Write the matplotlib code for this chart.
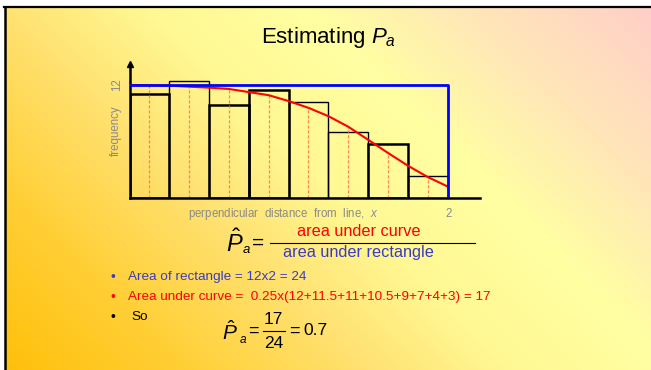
import numpy as np
import matplotlib.pyplot as plt
from matplotlib.colors import to_rgb

plt.rcParams['font.family'] = ['Liberation Sans', 'DejaVu Sans']
plt.rcParams['mathtext.fontset'] = 'custom'
plt.rcParams['mathtext.rm'] = 'Liberation Sans'
plt.rcParams['mathtext.it'] = 'Liberation Sans:italic'

# histogram of perpendicular distances (bins of width 0.25)
bin_starts = [0.0, 0.25, 0.5, 0.75, 1.0, 1.25, 1.5, 1.75]
bar_heights = [11.0, 12.4, 9.9, 11.5, 10.2, 7.0, 5.8, 2.4]
thick_bar = [True, False, True, True, False, False, True, False]

# fitted detection curve, sampled every 0.125
curve_x = [0.0, 0.125, 0.25, 0.375, 0.5, 0.625, 0.75, 0.875, 1.0,
           1.125, 1.25, 1.375, 1.5, 1.625, 1.75, 1.875, 2.0]
curve_y = [12.0, 11.98, 11.93, 11.82, 11.72, 11.58, 11.25, 10.92, 10.3,
           9.58, 8.7, 7.58, 6.2, 4.8, 3.45, 2.25, 1.25]

rect_height = 12
rect_width = 2

bullet_lines = [
    ('Area of rectangle = 12x2 = 24', '#3b3bc4'),
    ('Area under curve =  0.25x(12+11.5+11+10.5+9+7+4+3) = 17', '#ff0000'),
    ('So', 'black'),
]

W, H = 651, 370
fig = plt.figure(figsize=(W / 100, H / 100), dpi=100)
fig.patch.set_facecolor('white')

# slide background: diagonal gradient, orange -> yellow -> pink
bg = fig.add_axes([0, 0, 1, 1])
bg.set_xlim(0, W)
bg.set_ylim(H, 0)
bg.axis('off')

stops = [(0.0, '#ffc00a'), (0.18, '#ffcf36'), (0.36, '#ffe272'),
         (0.5, '#fff893'), (0.66, '#ffffa2'), (0.82, '#ffe6b8'), (1.0, '#ffcfc8')]
px, py = np.meshgrid(np.arange(W), np.arange(H))
t = (px * 0.707 - py * 0.707 + 261) / 721.0
t = np.clip(t, 0, 1)
grad = np.zeros((H, W, 3))
pos = [s[0] for s in stops]
for c in range(3):
    grad[..., c] = np.interp(t, pos, [to_rgb(s[1])[c] for s in stops])
bg.imshow(grad, extent=(6, W, H, 8), aspect='auto', zorder=0)
bg.plot([4, W], [7, 7], color='black', lw=1.6, zorder=1)
bg.plot([4.5, 4.5], [7, H], color='black', lw=1.8, zorder=1)

# title
bg.text(328, 38, 'Estimating $P_a$', fontsize=16, ha='center', va='center')

# chart axes: x=0 at px 129.5, x=2 at px 447.7, y=0 at px 198.3, y=12 at px 85
x0_px, y0_px = 129.5, 198.3
sx = (447.7 - 129.5) / 2.0
sy = (198.3 - 85.0) / 12.0
xmax, ymax = 2.2, 14.2
ax = fig.add_axes([x0_px / W, (H - y0_px) / H, xmax * sx / W, ymax * sy / H])
ax.set_xlim(0, xmax)
ax.set_ylim(0, ymax)
ax.patch.set_alpha(0)
for s in ['top', 'right']:
    ax.spines[s].set_visible(False)
for s in ['left', 'bottom']:
    ax.spines[s].set_linewidth(1.8)
ax.set_xticks([])
ax.set_yticks([])
ax.plot(0, ymax, marker='^', color='black', markersize=5, clip_on=False)

# dashed drop lines at bin midpoints
for xm, ym in zip(curve_x[1::2], curve_y[1::2]):
    ax.plot([xm, xm], [0, ym], color='#ff6a45', lw=0.9, ls=(0, (2.5, 1.5)), alpha=0.8)

# thin bars first, thick outlines on top
for b, h, thick in zip(bin_starts, bar_heights, thick_bar):
    if not thick:
        ax.bar(b, h, width=0.25, align='edge', fill=False, edgecolor='black', linewidth=1.0)
for b, h, thick in zip(bin_starts, bar_heights, thick_bar):
    if thick:
        ax.bar(b, h, width=0.25, align='edge', fill=False, edgecolor='black', linewidth=1.8)

ax.plot(curve_x, curve_y, color='#ff0000', lw=1.5, zorder=4)
ax.plot([0, rect_width, rect_width], [rect_height, rect_height, 0], color='#0000ff', lw=2.0, zorder=5)

gray = '#8a8a8a'
bg.text(117.5, 85, '12', fontsize=8.3, color=gray, rotation=90, ha='center', va='center')
bg.text(116, 131, 'frequency', fontsize=8.3, color=gray, rotation=90, ha='center', va='center')
bg.text(283, 214, 'perpendicular  distance  from  line,  $x$', fontsize=8.3, color=gray,
        ha='center', va='center')
bg.text(449, 214, '2', fontsize=8.3, color=gray, ha='center', va='center')

# P_a = area under curve / area under rectangle
bg.text(226, 243, r'$\hat{P}$', fontsize=17, ha='left', va='center')
bg.text(243, 250, 'a', fontsize=9.5, style='italic', ha='left', va='center')
bg.text(258, 243, '=', fontsize=15, ha='center', va='center')
bg.text(359, 231, 'area under curve', fontsize=11.7, color='#ff0000', ha='center', va='center')
bg.plot([270, 475], [242.7, 242.7], color='black', lw=0.8)
bg.text(358, 253, 'area under rectangle', fontsize=11.7, color='#3b3bc4', ha='center', va='center')

# bullet points
bullet_y = [277.3, 297.3, 316.7]
for (txt, col), yb in zip(bullet_lines, bullet_y):
    bg.text(112.7, yb, '\u2022', fontsize=10, color=col, ha='center', va='center')
    xt = 128.3 if txt != 'So' else 131.5
    bg.text(xt, yb, txt, fontsize=9.7, color=col, ha='left', va='center')

# P_a = 17/24 = 0.7
bg.text(222.5, 332, r'$\hat{P}$', fontsize=15, ha='left', va='center')
bg.text(239.5, 340, 'a', fontsize=8.5, style='italic', ha='left', va='center')
bg.text(253, 331, '=', fontsize=13, ha='center', va='center')
bg.text(273.5, 319, '17', fontsize=12.5, ha='center', va='center')
bg.plot([262.7, 285], [331, 331], color='black', lw=0.8)
bg.text(273.5, 344, '24', fontsize=12.5, ha='center', va='center')
bg.text(294, 331, '=', fontsize=13, ha='center', va='center')
bg.text(303, 330.5, '0.7', fontsize=12.5, ha='left', va='center')

fig.savefig('out.png', dpi=100)
